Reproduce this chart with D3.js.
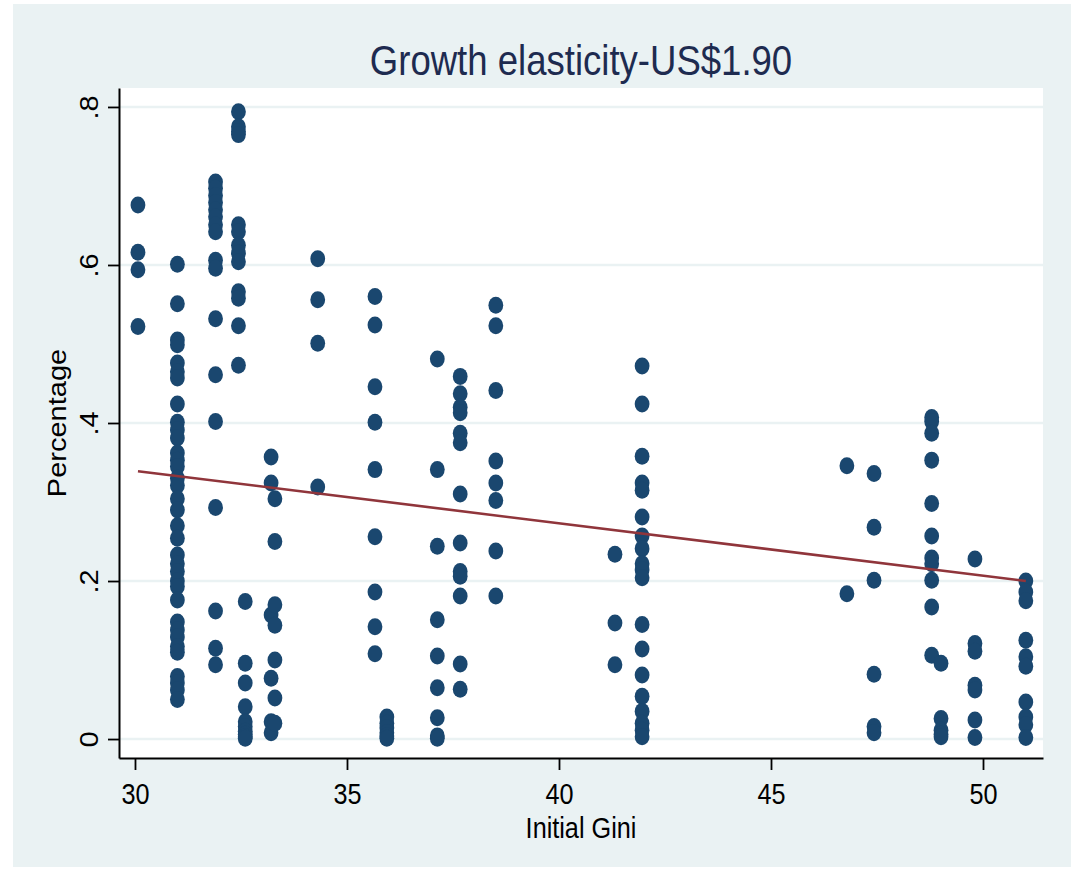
<!DOCTYPE html>
<html>
<head>
<meta charset="utf-8">
<script src="https://cdn.jsdelivr.net/npm/d3@7"></script>
<style>
  body { margin: 0; background: #fff; }
  text { font-family: "Liberation Sans", Arial, Helvetica, sans-serif; }
</style>
</head>
<body>
<script>
// Gini level of each column of points
var giniLevels = [30.07, 31.0, 31.9, 32.44, 32.6, 33.21, 33.3, 34.31, 35.66, 35.94,
                  37.13, 37.67, 38.51, 41.32, 41.96, 46.79, 47.43, 48.79, 49.01, 49.81, 51.01];

var elasticity = [
  [0.676, 0.616, 0.594, 0.522],
  [0.601, 0.551, 0.505, 0.499, 0.476, 0.465, 0.457, 0.424, 0.401, 0.391, 0.381, 0.362, 0.353,
   0.345, 0.33, 0.321, 0.304, 0.29, 0.27, 0.254, 0.233, 0.222, 0.212, 0.2, 0.193, 0.176,
   0.148, 0.138, 0.129, 0.117, 0.11, 0.079, 0.071, 0.062, 0.05],
  [0.705, 0.697, 0.688, 0.679, 0.67, 0.661, 0.651, 0.642, 0.606, 0.596, 0.532, 0.461, 0.402,
   0.293, 0.162, 0.115, 0.094],
  [0.794, 0.775, 0.769, 0.765, 0.651, 0.642, 0.625, 0.615, 0.604, 0.566, 0.558, 0.523, 0.473],
  [0.174, 0.096, 0.071, 0.041, 0.022, 0.016, 0.01, 0.006, 0.003, 0.001],
  [0.357, 0.324, 0.157, 0.077, 0.022, 0.008],
  [0.304, 0.25, 0.17, 0.144, 0.1, 0.052, 0.02],
  [0.608, 0.556, 0.501, 0.319],
  [0.56, 0.524, 0.446, 0.401, 0.341, 0.256, 0.186, 0.142, 0.108],
  [0.028, 0.02, 0.014, 0.008, 0.004, 0.001],
  [0.481, 0.341, 0.244, 0.151, 0.105, 0.065, 0.027, 0.004, 0.001],
  [0.459, 0.437, 0.42, 0.413, 0.387, 0.375, 0.31, 0.248, 0.212, 0.206, 0.181, 0.095, 0.063],
  [0.549, 0.523, 0.441, 0.352, 0.324, 0.302, 0.238, 0.181],
  [0.234, 0.147, 0.094],
  [0.472, 0.424, 0.358, 0.324, 0.315, 0.281, 0.257, 0.241, 0.222, 0.214, 0.204, 0.145, 0.114,
   0.081, 0.054, 0.035, 0.02, 0.011, 0.003],
  [0.346, 0.184],
  [0.336, 0.268, 0.201, 0.082, 0.016, 0.008],
  [0.407, 0.402, 0.387, 0.353, 0.298, 0.257, 0.229, 0.222, 0.201, 0.167, 0.106],
  [0.096, 0.026, 0.011, 0.006, 0.003],
  [0.228, 0.121, 0.111, 0.068, 0.062, 0.024, 0.002],
  [0.2, 0.186, 0.175, 0.125, 0.104, 0.092, 0.047, 0.028, 0.018, 0.002]
];

// linear fit (fitted values)
var fitIntercept = 0.5387,
    fitSlope = -0.00664;

var xTicks = [30, 35, 40, 45, 50];
var yTicks = [0, 0.2, 0.4, 0.6, 0.8];
var yTickLabels = ["0", ".2", ".4", ".6", ".8"];

var titleText = "Growth elasticity-US$1.90",
    xTitle = "Initial Gini",
    yTitle = "Percentage";

// flatten into points
var points = [];
giniLevels.forEach(function(g, i) {
  elasticity[i].forEach(function(v) { points.push({x: g, y: v}); });
});

var width = 1077, height = 872;
var plot = {left: 119, right: 1043, top: 88, bottom: 758};
var sx = 0.87; // the picture is squeezed a bit horizontally

var navy = "#1a476f", maroon = "#90353b", bg = "#eaf2f3";

var svg = d3.select("body").append("svg")
    .attr("width", width)
    .attr("height", height);

// outer graph region
svg.append("rect")
    .attr("x", 13).attr("y", 4)
    .attr("width", 1058).attr("height", 863)
    .attr("fill", bg);

// plot region
svg.append("rect")
    .attr("x", plot.left).attr("y", plot.top)
    .attr("width", plot.right - plot.left).attr("height", plot.bottom - plot.top)
    .attr("fill", "#fff");

var x = d3.scaleLinear().domain([29.623, 51.415]).range([plot.left, plot.right]);
var y = d3.scaleLinear().domain([-0.024, 0.824]).range([plot.bottom, plot.top]);

// gridlines
svg.append("g").selectAll("line")
    .data(yTicks)
  .enter().append("line")
    .attr("x1", plot.left).attr("x2", plot.right)
    .attr("y1", function(d) { return y(d); })
    .attr("y2", function(d) { return y(d); })
    .attr("stroke", bg)
    .attr("stroke-width", 2.5);

// points
svg.append("g").selectAll("ellipse")
    .data(points)
  .enter().append("ellipse")
    .attr("cx", function(d) { return x(d.x); })
    .attr("cy", function(d) { return y(d.y); })
    .attr("rx", 8.5 * sx)
    .attr("ry", 8.5)
    .attr("fill", navy);

// fitted line over the range of the data
var xr = d3.extent(giniLevels);
svg.append("line")
    .attr("x1", x(xr[0])).attr("y1", y(fitIntercept + fitSlope * xr[0]))
    .attr("x2", x(xr[1])).attr("y2", y(fitIntercept + fitSlope * xr[1]))
    .attr("stroke", maroon)
    .attr("stroke-width", 2.6);

// x axis
var xAxis = svg.append("g")
    .attr("transform", "translate(0," + plot.bottom + ")")
    .call(d3.axisBottom(x).tickValues(xTicks).tickSize(12).tickSizeOuter(0).tickFormat(d3.format("d")));

xAxis.select(".domain").attr("stroke", "#000").attr("stroke-width", 2);
xAxis.selectAll(".tick line").attr("stroke", "#000").attr("stroke-width", 1.8);
xAxis.selectAll(".tick text")
    .attr("y", null).attr("dy", null)
    .attr("transform", "translate(0,46) scale(" + sx + ",1)")
    .attr("font-size", 29)
    .attr("font-family", "Liberation Sans, Arial, sans-serif")
    .attr("fill", "#000");

// y axis
var yAxis = svg.append("g")
    .attr("transform", "translate(" + plot.left + ",0)")
    .call(d3.axisLeft(y).tickValues(yTicks).tickSize(11).tickSizeOuter(0)
      .tickFormat(function(d, i) { return yTickLabels[i]; }));

yAxis.select(".domain").attr("stroke", "#000").attr("stroke-width", 2);
yAxis.selectAll(".tick line").attr("stroke", "#000").attr("stroke-width", 1.8);
yAxis.selectAll(".tick text")
    .attr("x", null).attr("dy", null)
    .attr("text-anchor", "middle")
    .attr("transform", "translate(-21,0) scale(" + sx + ",1) rotate(-90)")
    .attr("font-size", 29)
    .attr("font-family", "Liberation Sans, Arial, sans-serif")
    .attr("fill", "#000");

// titles
svg.append("text")
    .attr("transform", "translate(" + ((plot.left + plot.right) / 2) + ",75) scale(" + sx + ",1)")
    .attr("text-anchor", "middle")
    .attr("font-size", 42)
    .attr("fill", "#1e2b50")
    .text(titleText);

svg.append("text")
    .attr("transform", "translate(" + ((plot.left + plot.right) / 2) + ",838) scale(" + sx + ",1)")
    .attr("text-anchor", "middle")
    .attr("font-size", 29)
    .attr("fill", "#000")
    .text(xTitle);

svg.append("text")
    .attr("transform", "translate(66," + ((plot.top + plot.bottom) / 2) + ") scale(" + sx + ",1) rotate(-90)")
    .attr("text-anchor", "middle")
    .attr("font-size", 29)
    .attr("fill", "#000")
    .text(yTitle);
</script>
</body>
</html>
